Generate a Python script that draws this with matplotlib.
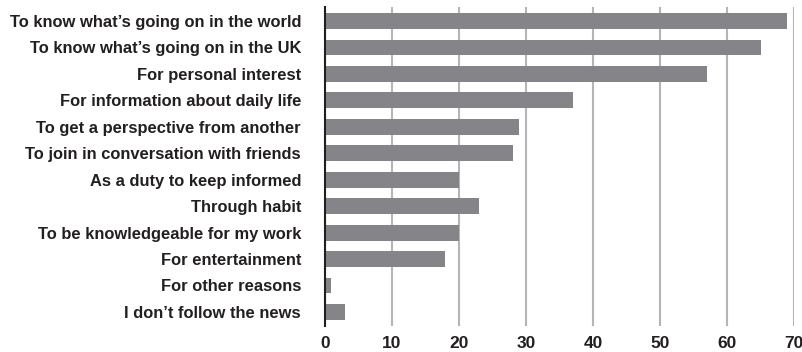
import matplotlib
matplotlib.use("Agg")
import matplotlib.pyplot as plt

# Reasons for following the news (%)
reasons = [
    "To know what\u2019s going on in the world",
    "To know what\u2019s going on in the UK",
    "For personal interest",
    "For information about daily life",
    "To get a perspective from another",
    "To join in conversation with friends",
    "As a duty to keep informed",
    "Through habit",
    "To be knowledgeable for my work",
    "For entertainment",
    "For other reasons",
    "I don\u2019t follow the news",
]
values = [69, 65, 57, 37, 29, 28, 20, 23, 20, 18, 1, 3]
x_ticks = [0, 10, 20, 30, 40, 50, 60, 70]

plt.rcParams["font.family"] = ["Liberation Sans", "DejaVu Sans"]

fig = plt.figure(figsize=(8.03, 3.52), dpi=100)
ax = fig.add_axes([0.4044, 0.074, 0.5846, 0.906])

pos = list(range(len(reasons)))
ax.barh(pos, values, height=0.6, color="#858589", zorder=3)

ax.set_xlim(0, 70)
ax.set_ylim(len(reasons) - 0.47, -0.53)
ax.set_xticks(x_ticks)
ax.set_yticks(pos)
ax.set_yticklabels(reasons, fontsize=11.9, fontweight="bold", color="#231f20")
for lbl in ax.get_xticklabels():
    lbl.set_fontsize(12.5)
    lbl.set_fontweight("bold")
    lbl.set_color("#231f20")

ax.tick_params(axis="y", length=0, pad=17)
ax.tick_params(axis="x", length=0, pad=7)
ax.grid(axis="x", color="#b5b5b7", linewidth=1.5, zorder=0)
ax.set_axisbelow(True)

for side in ["top", "right", "bottom"]:
    ax.spines[side].set_visible(False)
ax.spines["left"].set_color("#231f20")
ax.spines["left"].set_linewidth(1.5)
ax.spines["left"].set_zorder(4)

fig.savefig("out.png", dpi=100)
